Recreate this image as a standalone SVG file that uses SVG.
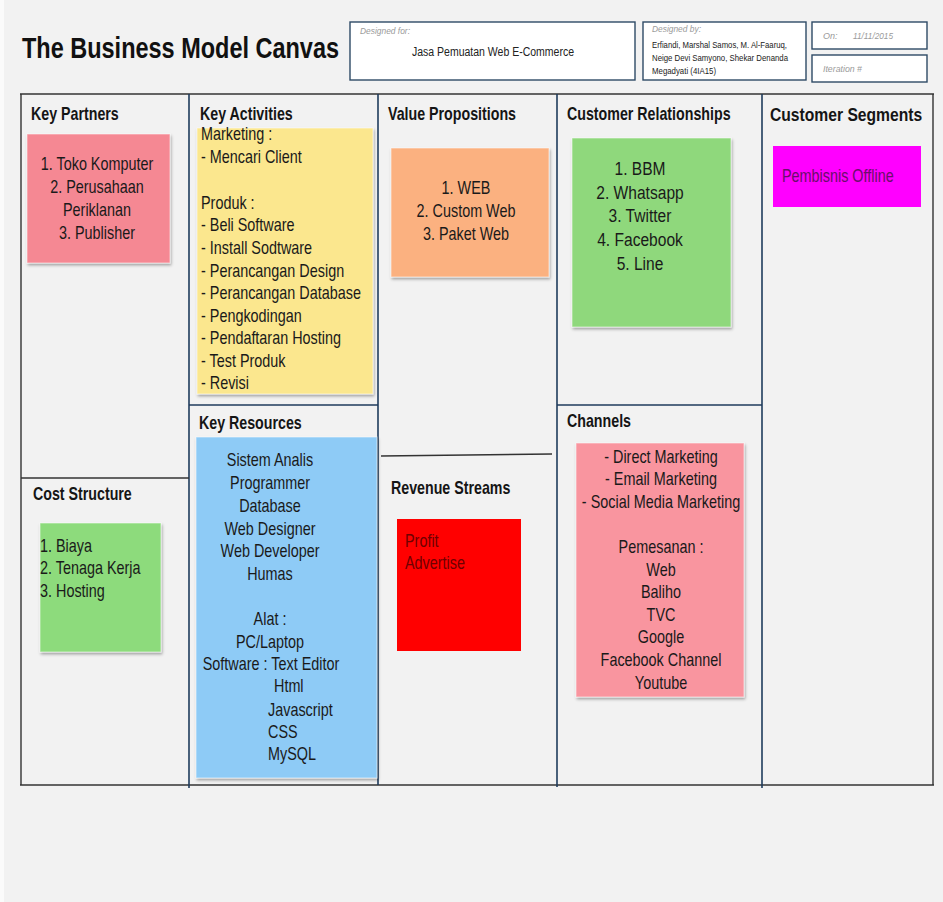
<svg xmlns="http://www.w3.org/2000/svg" width="943" height="902" viewBox="0 0 943 902">
<defs>
<filter id="sh" x="-10%" y="-10%" width="125%" height="125%">
<feDropShadow dx="1" dy="2" stdDeviation="1.5" flood-color="#000" flood-opacity="0.35"/>
</filter>
<style>
.t{font-family:"Liberation Sans",Arial,sans-serif}
.title{font-weight:bold;font-size:29px;fill:#111}
.h{font-weight:bold;font-size:18px;fill:#151515}
.b{font-size:18px;fill:#1a1a1a}
.m{text-anchor:middle}
.sm{font-size:9px;fill:#222}
.lbl{font-size:9px;font-style:italic;fill:#9a9a9a}
.box{fill:#fff;stroke:#2e4a66;stroke-width:1.4}
.note{filter:url(#sh);stroke:#ffffff;stroke-opacity:0.55;stroke-width:1}
.vl{stroke:#1f3b5c;stroke-width:1.6}
.ol{stroke:#333;stroke-width:1.4}
</style>
</defs>
<rect width="943" height="902" fill="#f2f2f2"/>
<rect width="4" height="902" fill="#fbfbfb"/>

<g id="header">
<text class="t title" transform="translate(22,58) scale(0.81,1)">The Business Model Canvas</text>
<rect class="box" x="350" y="22" width="285" height="58"/>
<text class="t lbl" x="360" y="34" textLength="50" lengthAdjust="spacingAndGlyphs">Designed for:</text>
<text class="t" x="412" y="56" font-size="12" fill="#222" textLength="162" lengthAdjust="spacingAndGlyphs">Jasa Pemuatan Web E-Commerce</text>
<rect class="box" x="643" y="22" width="163" height="58"/>
<text class="t lbl" x="652" y="32" textLength="49" lengthAdjust="spacingAndGlyphs">Designed by:</text>
<text class="t sm" x="652" y="48" textLength="135" lengthAdjust="spacingAndGlyphs">Erfiandi, Marshal Samos, M. Al-Faaruq,</text>
<text class="t sm" x="652" y="61" textLength="136" lengthAdjust="spacingAndGlyphs">Neige Devi Samyono, Shekar Denanda</text>
<text class="t sm" x="652" y="74" textLength="64" lengthAdjust="spacingAndGlyphs">Megadyati (4IA15)</text>
<rect class="box" x="812" y="22" width="115" height="27"/>
<text class="t lbl" x="823" y="39">On:</text>
<text class="t lbl" x="853" y="39" textLength="40" lengthAdjust="spacingAndGlyphs">11/11/2015</text>
<rect class="box" x="812" y="55" width="115" height="27"/>
<text class="t lbl" x="823" y="72" textLength="39" lengthAdjust="spacingAndGlyphs">Iteration #</text>
</g>

<g id="grid">
<line class="ol" x1="20" y1="94" x2="934" y2="94"/>
<line class="ol" x1="20" y1="785" x2="934" y2="785"/>
<line class="ol" x1="21" y1="94" x2="21" y2="785"/>
<line class="ol" x1="933" y1="94" x2="933" y2="785"/>
<line class="vl" x1="189" y1="94" x2="189" y2="788"/>
<line class="vl" x1="378" y1="94" x2="378" y2="785"/>
<line class="vl" x1="557" y1="94" x2="557" y2="787"/>
<line class="vl" x1="762" y1="94" x2="762" y2="788"/>
<line class="vl" x1="189" y1="405" x2="378" y2="405"/>
<line class="vl" x1="557" y1="405" x2="762" y2="405"/>
<line class="ol" x1="21" y1="478" x2="189" y2="478"/>
<line class="ol" x1="381" y1="456" x2="552" y2="454"/>
</g>

<g id="key-partners">
<text class="t h" transform="translate(31,120) scale(0.79,1)">Key Partners</text>
<rect class="note" x="27" y="134" width="143" height="129" fill="#f58893"/>
<g class="t b m">
<text transform="translate(97,170) scale(0.8,1)">1. Toko Komputer</text>
<text transform="translate(97,193) scale(0.8,1)">2. Perusahaan</text>
<text transform="translate(97,216) scale(0.8,1)">Periklanan</text>
<text transform="translate(97,239) scale(0.8,1)">3. Publisher</text>
</g>
</g>

<g id="key-activities">
<text class="t h" transform="translate(200,120) scale(0.79,1)">Key Activities</text>
<rect class="note" x="197" y="128" width="176" height="266" fill="#fbe78e"/>
<g class="t b">
<text transform="translate(201,140) scale(0.8,1)">Marketing :</text>
<text transform="translate(201,163) scale(0.8,1)">- Mencari Client</text>
<text transform="translate(201,209) scale(0.8,1)">Produk :</text>
<text transform="translate(201,231) scale(0.8,1)">- Beli Software</text>
<text transform="translate(201,254) scale(0.8,1)">- Install Sodtware</text>
<text transform="translate(201,277) scale(0.8,1)">- Perancangan Design</text>
<text transform="translate(201,299) scale(0.8,1)">- Perancangan Database</text>
<text transform="translate(201,322) scale(0.8,1)">- Pengkodingan</text>
<text transform="translate(201,344) scale(0.8,1)">- Pendaftaran Hosting</text>
<text transform="translate(201,367) scale(0.8,1)">- Test Produk</text>
<text transform="translate(201,389) scale(0.8,1)">- Revisi</text>
</g>
</g>

<g id="key-resources">
<text class="t h" transform="translate(199,429) scale(0.79,1)">Key Resources</text>
<rect class="note" x="196" y="437" width="181" height="341" fill="#8ecbf6"/>
<g class="t b m">
<text transform="translate(270,466) scale(0.8,1)">Sistem Analis</text>
<text transform="translate(270,489) scale(0.8,1)">Programmer</text>
<text transform="translate(270,512) scale(0.8,1)">Database</text>
<text transform="translate(270,535) scale(0.8,1)">Web Designer</text>
<text transform="translate(270,557) scale(0.8,1)">Web Developer</text>
<text transform="translate(270,580) scale(0.8,1)">Humas</text>
<text transform="translate(270,625) scale(0.8,1)">Alat :</text>
<text transform="translate(270,648) scale(0.8,1)">PC/Laptop</text>
<text transform="translate(271,670) scale(0.8,1)">Software : Text Editor</text>
</g>
<g class="t b">
<text transform="translate(274,692) scale(0.8,1)">Html</text>
<text transform="translate(268,716) scale(0.8,1)">Javascript</text>
<text transform="translate(268,738) scale(0.8,1)">CSS</text>
<text transform="translate(268,760) scale(0.8,1)">MySQL</text>
</g>
</g>

<g id="value-propositions">
<text class="t h" transform="translate(388,120) scale(0.79,1)">Value Propositions</text>
<rect class="note" x="391" y="148" width="158" height="129" fill="#fbb180"/>
<g class="t b m">
<text transform="translate(466,194) scale(0.8,1)">1. WEB</text>
<text transform="translate(466,217) scale(0.8,1)">2. Custom Web</text>
<text transform="translate(466,240) scale(0.8,1)">3. Paket Web</text>
</g>
</g>

<g id="revenue-streams">
<text class="t h" transform="translate(391,494) scale(0.79,1)">Revenue Streams</text>
<rect x="397" y="519" width="124" height="132" fill="#ff0000"/>
<g class="t b" style="fill:#6e0000">
<text transform="translate(405,547) scale(0.8,1)">Profit</text>
<text transform="translate(405,569) scale(0.8,1)">Advertise</text>
</g>
</g>

<g id="customer-relationships">
<text class="t h" transform="translate(567,120) scale(0.79,1)">Customer Relationships</text>
<rect class="note" x="572" y="138" width="159" height="189" fill="#8fd87b"/>
<g class="t b m" style="font-size:19px">
<text transform="translate(640,175) scale(0.82,1)">1. BBM</text>
<text transform="translate(640,199) scale(0.82,1)">2. Whatsapp</text>
<text transform="translate(640,222) scale(0.82,1)">3. Twitter</text>
<text transform="translate(640,246) scale(0.82,1)">4. Facebook</text>
<text transform="translate(640,270) scale(0.82,1)">5. Line</text>
</g>
</g>

<g id="channels">
<text class="t h" transform="translate(567,427) scale(0.79,1)">Channels</text>
<rect class="note" x="576" y="443" width="168" height="254" fill="#f9959f"/>
<g class="t b m">
<text transform="translate(661,463) scale(0.8,1)">- Direct Marketing</text>
<text transform="translate(661,485) scale(0.8,1)">- Email Marketing</text>
<text transform="translate(661,508) scale(0.8,1)">- Social Media Marketing</text>
<text transform="translate(661,553) scale(0.8,1)">Pemesanan :</text>
<text transform="translate(661,576) scale(0.8,1)">Web</text>
<text transform="translate(661,598) scale(0.8,1)">Baliho</text>
<text transform="translate(661,621) scale(0.8,1)">TVC</text>
<text transform="translate(661,643) scale(0.8,1)">Google</text>
<text transform="translate(661,666) scale(0.8,1)">Facebook Channel</text>
<text transform="translate(661,689) scale(0.8,1)">Youtube</text>
</g>
</g>

<g id="customer-segments">
<text class="t h" transform="translate(770,121) scale(0.87,1)">Customer Segments</text>
<rect x="773" y="146" width="148" height="61" fill="#ff00ff"/>
<text class="t b" style="fill:#6a0f6a" transform="translate(782,182) scale(0.8,1)">Pembisnis Offline</text>
</g>

<g id="cost-structure">
<text class="t h" transform="translate(33,500) scale(0.79,1)">Cost Structure</text>
<rect class="note" x="40" y="523" width="121" height="129" fill="#8ddb7c"/>
<g class="t b">
<text transform="translate(40,552) scale(0.8,1)">1. Biaya</text>
<text transform="translate(40,574) scale(0.8,1)">2. Tenaga Kerja</text>
<text transform="translate(40,597) scale(0.8,1)">3. Hosting</text>
</g>
</g>
</svg>
